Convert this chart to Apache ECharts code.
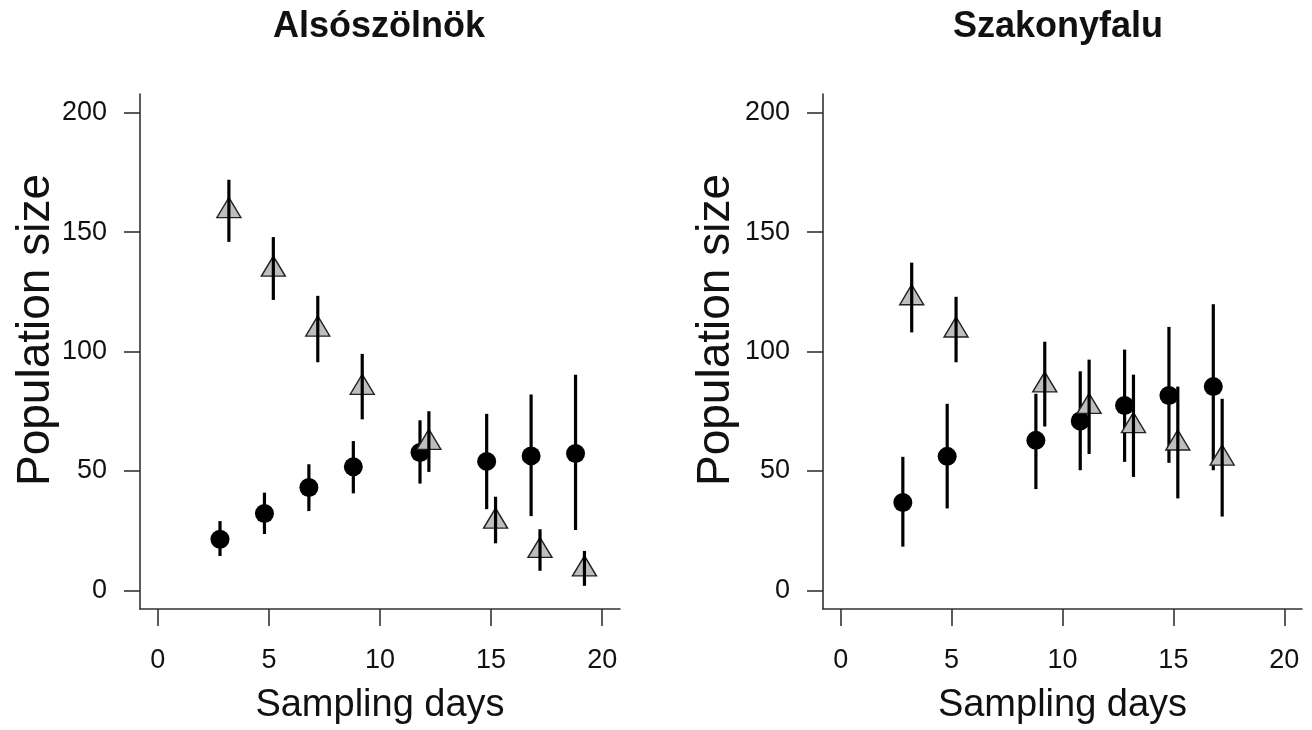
<!DOCTYPE html>
<html>
<head>
<meta charset="utf-8">
<script src="https://cdn.jsdelivr.net/npm/echarts@6/dist/echarts.min.js"></script>
<style>
html,body{margin:0;padding:0;background:#fff;}
#chart{width:1312px;height:730px;}
</style>
</head>
<body>
<div id="chart"></div>
<script>
// ---- Data ----
const panelTitles = ['Alsószölnök', 'Szakonyfalu'];
const xTickValues = [0, 5, 10, 15, 20];
const yTickValues = [0, 50, 100, 150, 200];
const xAxisTitle = 'Sampling days';
const yAxisTitle = 'Population size';

// Alsószölnök
const blackX_A  = [2.8, 4.8, 6.8, 8.8, 11.8, 14.8, 16.8, 18.8];
const blackY_A  = [21.4, 32.2, 43.1, 51.7, 57.7, 54.0, 56.3, 57.3];
const blackLo_A = [14.4, 23.6, 33.2, 40.6, 44.7, 34.0, 31.1, 25.3];
const blackHi_A = [29.0, 40.9, 52.8, 62.5, 71.2, 73.9, 82.0, 90.3];
const triX_A    = [3.2, 5.2, 7.2, 9.2, 12.2, 15.2, 17.2, 19.2];
const triY_A    = [159, 134.5, 109.4, 85, 62, 29, 16.7, 9];
const triLo_A   = [145.9, 121.6, 95.5, 71.6, 49.6, 19.7, 8.2, 1.9];
const triHi_A   = [171.9, 147.9, 123.3, 99.0, 75.0, 39.2, 25.6, 16.5];

// Szakonyfalu
const blackX_S  = [2.8, 4.8, 8.8, 10.8, 12.8, 14.8, 16.8];
const blackY_S  = [36.8, 56.1, 62.8, 70.9, 77.4, 81.6, 85.3];
const blackLo_S = [18.3, 34.3, 42.4, 50.3, 53.8, 53.4, 50.3];
const blackHi_S = [55.9, 78.1, 82.3, 91.7, 100.8, 110.3, 119.8];
const triX_S    = [3.2, 5.2, 9.2, 11.2, 13.2, 15.2, 17.2];
const triY_S    = [122.5, 109, 86, 77, 69, 61.7, 55.4];
const triLo_S   = [108.0, 95.5, 68.6, 57.1, 47.5, 38.5, 30.9];
const triHi_S   = [137.2, 122.9, 104.1, 96.6, 90.3, 85.3, 80.2];

// ---- Chart ----
const FONT = '"Liberation Sans", Arial, Helvetica, sans-serif';
const chart = echarts.init(document.getElementById('chart'), null, {renderer: 'canvas'});

const grids = [
  {left: 140, top: 94, width: 480, bottom: 119},
  {left: 823, top: 94, width: 479, bottom: 119}
];

function makeX(i) {
  return {
    type: 'value', gridIndex: i, min: -0.8, max: 20.8,
    name: xAxisTitle, nameLocation: 'middle', nameGap: 78,
    nameTextStyle: {fontFamily: FONT, fontSize: 38, color: '#111'},
    axisLine: {show: true, onZero: false, lineStyle: {color: '#333', width: 1.6}},
    axisTick: {show: true, length: 17, customValues: xTickValues, lineStyle: {color: '#333', width: 1.6}},
    axisLabel: {show: true, customValues: xTickValues, margin: 38, fontFamily: FONT, fontSize: 27, color: '#111'},
    splitLine: {show: false}
  };
}
function makeY(i) {
  return {
    type: 'value', gridIndex: i, min: -7.8, max: 207.8,
    axisLine: {show: true, onZero: false, lineStyle: {color: '#333', width: 1.6}},
    axisTick: {show: true, length: 16, customValues: yTickValues, lineStyle: {color: '#333', width: 1.6}},
    axisLabel: {show: true, customValues: yTickValues, margin: 33, fontFamily: FONT, fontSize: 27, color: '#111'},
    splitLine: {show: false}
  };
}

function errBars(i, xs, lo, hi, z) {
  return {
    type: 'custom', xAxisIndex: i, yAxisIndex: i, z: z, silent: true,
    data: xs.map((v, k) => [v, lo[k], hi[k]]),
    encode: {x: 0, y: [1, 2]},
    renderItem: function (params, api) {
      const p1 = api.coord([api.value(0), api.value(1)]);
      const p2 = api.coord([api.value(0), api.value(2)]);
      return {type: 'line', shape: {x1: p1[0], y1: p1[1], x2: p2[0], y2: p2[1]},
              style: {stroke: '#000', lineWidth: 3.2}};
    }
  };
}
function circles(i, xs, ys, z) {
  return {
    type: 'scatter', xAxisIndex: i, yAxisIndex: i, z: z, silent: true,
    symbol: 'circle', symbolSize: 19,
    itemStyle: {color: '#000', opacity: 1},
    data: xs.map((v, k) => [v, ys[k]])
  };
}
function triangles(i, xs, ys, z) {
  return {
    type: 'scatter', xAxisIndex: i, yAxisIndex: i, z: z, silent: true,
    symbol: 'triangle', symbolSize: [24, 20], symbolOffset: [0, -3],
    itemStyle: {color: '#bebebe', borderColor: '#222', borderWidth: 1.4, opacity: 1},
    data: xs.map((v, k) => [v, ys[k]])
  };
}

const option = {
  animation: false,
  backgroundColor: '#fff',
  title: [
    {text: panelTitles[0], left: 379, top: 9, textAlign: 'center', padding: 0,
     textStyle: {fontFamily: FONT, fontSize: 36, fontWeight: 'bold', color: '#111'}},
    {text: panelTitles[1], left: 1058, top: 9, textAlign: 'center', padding: 0,
     textStyle: {fontFamily: FONT, fontSize: 36, fontWeight: 'bold', color: '#111'}}
  ],
  grid: grids,
  xAxis: [makeX(0), makeX(1)],
  yAxis: [makeY(0), makeY(1)],
  graphic: [
    {type: 'text', x: 36, y: 330, rotation: Math.PI / 2, silent: true,
     style: {text: yAxisTitle, font: '46px ' + FONT, fill: '#111', align: 'center', verticalAlign: 'middle'}},
    {type: 'text', x: 716, y: 330, rotation: Math.PI / 2, silent: true,
     style: {text: yAxisTitle, font: '46px ' + FONT, fill: '#111', align: 'center', verticalAlign: 'middle'}}
  ],
  series: [
    errBars(0, blackX_A, blackLo_A, blackHi_A, 2),
    circles(0, blackX_A, blackY_A, 3),
    triangles(0, triX_A, triY_A, 4),
    errBars(0, triX_A, triLo_A, triHi_A, 5),
    errBars(1, blackX_S, blackLo_S, blackHi_S, 2),
    circles(1, blackX_S, blackY_S, 3),
    triangles(1, triX_S, triY_S, 4),
    errBars(1, triX_S, triLo_S, triHi_S, 5)
  ]
};
chart.setOption(option);
</script>
</body>
</html>
